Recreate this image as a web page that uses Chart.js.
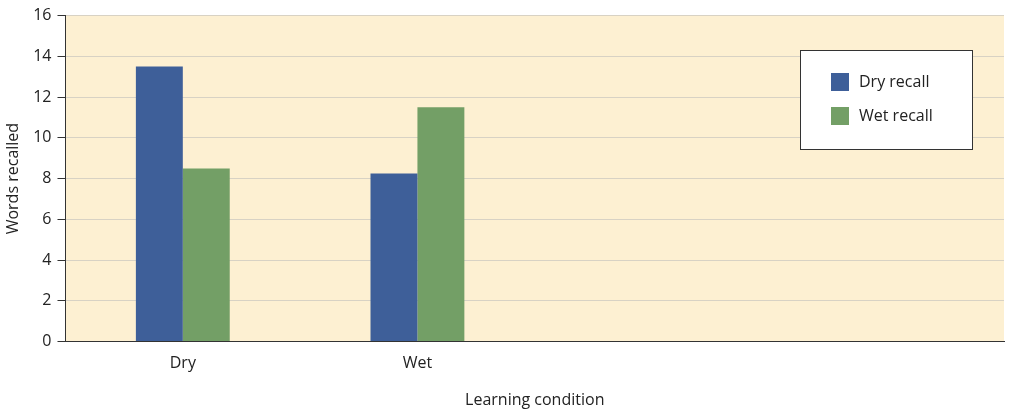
<!DOCTYPE html>
<html>
<head>
<meta charset="utf-8">
<script src="https://cdn.jsdelivr.net/npm/chart.js@4"></script>
<style>
html, body { margin: 0; padding: 0; background: #fff; }
</style>
</head>
<body>
<canvas id="chart" width="1024" height="414"></canvas>
<script>
var categories = ['Dry', 'Wet', '', ''];
var dryRecall = [13.5, 8.25, null, null];
var wetRecall = [8.5, 11.5, null, null];

// plot background + boxed legend
var plotBg = {
    id: 'plotBg',
    beforeDraw: function(chart) {
        var a = chart.chartArea, ctx = chart.ctx;
        ctx.save();
        ctx.fillStyle = '#fdf0d2';
        ctx.fillRect(a.left, a.top, a.right - a.left, a.bottom - a.top);
        ctx.restore();
    },
    afterDraw: function(chart) {
        var ctx = chart.ctx;
        ctx.save();
        ctx.fillStyle = '#fff';
        ctx.strokeStyle = '#333';
        ctx.lineWidth = 1;
        ctx.fillRect(800, 50, 172, 99);
        ctx.strokeRect(800.5, 50.5, 172, 99);
        ctx.font = '16px "Open Sans", sans-serif';
        ctx.textBaseline = 'middle';
        chart.data.datasets.forEach(function(ds, i) {
            var y = 82 + i * 34;
            ctx.fillStyle = ds.backgroundColor;
            ctx.fillRect(831, y - 9, 18, 18);
            ctx.fillStyle = '#222';
            ctx.fillText(ds.label, 859, y);
        });
        ctx.restore();
    }
};

new Chart(document.getElementById('chart').getContext('2d'), {
    type: 'bar',
    data: {
        labels: categories,
        datasets: [
            { label: 'Dry recall', data: dryRecall, backgroundColor: '#3e5f99' },
            { label: 'Wet recall', data: wetRecall, backgroundColor: '#739f66' }
        ]
    },
    options: {
        responsive: false,
        animation: false,
        devicePixelRatio: 1,
        layout: { padding: { top: 14, right: 20, left: 0, bottom: 0 } },
        categoryPercentage: 0.4,
        barPercentage: 1,
        plugins: { legend: { display: false }, tooltip: { enabled: false } },
        scales: {
            x: {
                grid: { display: false, drawTicks: false },
                border: { color: '#333' },
                ticks: { color: '#222', font: { size: 16, family: 'Open Sans' }, padding: 12 },
                title: { display: true, text: 'Learning condition', color: '#222', font: { size: 16, family: 'Open Sans' }, padding: { top: 6 } }
            },
            y: {
                min: 0, max: 16,
                ticks: { stepSize: 2, color: '#222', font: { size: 16, family: 'Open Sans' }, padding: 6 },
                grid: { color: '#d8d2c4', tickColor: '#333', tickLength: 8 },
                border: { color: '#333' },
                title: { display: true, text: 'Words recalled', color: '#222', font: { size: 16, family: 'Open Sans' }, padding: { bottom: 4 } }
            }
        }
    },
    plugins: [plotBg]
});
</script>
</body>
</html>
